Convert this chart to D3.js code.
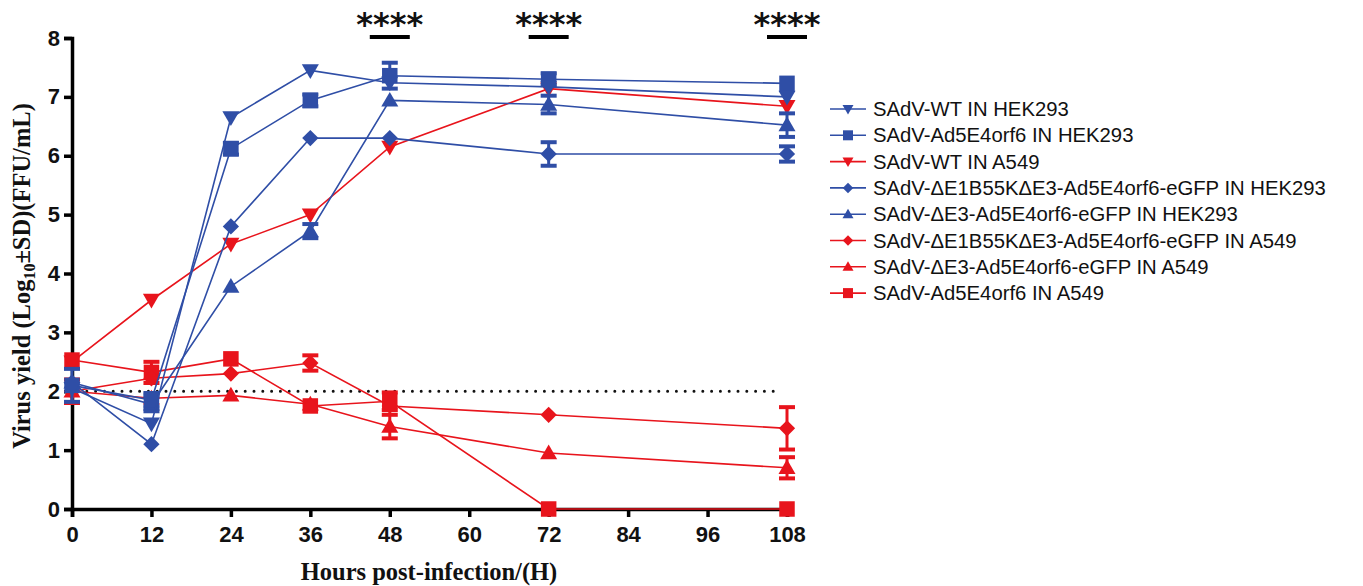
<html>
	<head>
		<script src="https://cdnjs.cloudflare.com/ajax/libs/d3/7.8.5/d3.min.js"></script>
		<style>
            body { margin: 0; background: #fff; }
            svg { width: 1363px; height: 586px; }
            .tick text { font-family: "Liberation Sans", Arial, sans-serif; font-weight: bold; font-size: 22px; fill: #111; }
            .axisTitle { font-family: "Liberation Serif", "Times New Roman", serif; font-weight: bold; font-size: 24.5px; fill: #111; }
            .legendText { font-family: "Liberation Sans", Arial, sans-serif; font-size: 20.3px; fill: #111; }
            .stars { font-family: "DejaVu Sans", sans-serif; font-weight: bold; font-size: 32px; fill: #111; }
		</style>
	</head>
	<body>
		<script type='text/javascript'>
            // hours post infection
            var hours = [0, 12, 24, 36, 48, 72, 108];
            var xTicks = [0, 12, 24, 36, 48, 60, 72, 84, 96, 108];
            var yTicks = [0, 1, 2, 3, 4, 5, 6, 7, 8];

            var seriesNames = [
                "SAdV-WT IN HEK293",
                "SAdV-Ad5E4orf6 IN HEK293",
                "SAdV-WT IN A549",
                "SAdV-ΔE1B55KΔE3-Ad5E4orf6-eGFP IN HEK293",
                "SAdV-ΔE3-Ad5E4orf6-eGFP IN HEK293",
                "SAdV-ΔE1B55KΔE3-Ad5E4orf6-eGFP IN A549",
                "SAdV-ΔE3-Ad5E4orf6-eGFP IN A549",
                "SAdV-Ad5E4orf6 IN A549"
            ];
            var seriesColors = ["blue", "blue", "red", "blue", "blue", "red", "red", "red"];
            var seriesShapes = ["down", "square", "down", "diamond", "up", "diamond", "up", "square"];

            // log10 yield (mean) and SD per series
            var wtHek = [2.05, 1.45, 6.65, 7.45, 7.24, 7.17, 7.0];
            var wtHekSd = [0.05, 0.05, 0.05, 0.04, 0.05, 0.05, 0.05];
            var orf6Hek = [2.1, 1.85, 6.12, 6.94, 7.36, 7.3, 7.23];
            var orf6HekSd = [0.28, 0.12, 0.1, 0.1, 0.22, 0.1, 0.05];
            var wtA549 = [2.5, 3.55, 4.5, 5.0, 6.15, 7.14, 6.84];
            var wtA549Sd = [0.05, 0.04, 0.05, 0.06, 0.05, 0.05, 0.05];
            var e1bHek = [2.15, 1.1, 4.8, 6.3, 6.3, 6.03, 6.03];
            var e1bHekSd = [0.05, 0.04, 0.04, 0.04, 0.04, 0.2, 0.13];
            var e3Hek = [2.15, 1.78, 3.78, 4.72, 6.94, 6.87, 6.52];
            var e3HekSd = [0.05, 0.12, 0.04, 0.12, 0.05, 0.15, 0.2];
            var e1bA549 = [2.0, 2.22, 2.3, 2.48, 1.75, 1.6, 1.37];
            var e1bA549Sd = [0.05, 0.04, 0.04, 0.13, 0.04, 0.04, 0.36];
            var e3A549 = [2.0, 1.88, 1.93, 1.78, 1.4, 0.95, 0.7];
            var e3A549Sd = [0.2, 0.05, 0.04, 0.04, 0.2, 0.04, 0.18];
            var orf6A549 = [2.53, 2.32, 2.55, 1.75, 1.83, 0, 0];
            var orf6A549Sd = [0.05, 0.18, 0.05, 0.05, 0.15, 0, 0];

            var seriesValues = [wtHek, orf6Hek, wtA549, e1bHek, e3Hek, e1bA549, e3A549, orf6A549];
            var seriesSd = [wtHekSd, orf6HekSd, wtA549Sd, e1bHekSd, e3HekSd, e1bA549Sd, e3A549Sd, orf6A549Sd];

            var limitOfDetection = 2;
            var significanceHours = [48, 72, 108];

            var palette = { blue: "#2f4ea6", red: "#e8141c" };

            var svg = d3.select("body").append("svg");

            var x = d3.scaleLinear().domain([0, 108]).range([72, 787]);
            var y = d3.scaleLinear().domain([0, 8]).range([509, 38]);

            function shapePath(shape, s) {
                var h = s / 2;
                if (shape === "square") return "M" + (-h) + "," + (-h) + "H" + h + "V" + h + "H" + (-h) + "Z";
                if (shape === "diamond") return "M0," + (-h * 1.05) + "L" + (h * 1.05) + ",0L0," + (h * 1.05) + "L" + (-h * 1.05) + ",0Z";
                if (shape === "up") return "M0," + (-h * 1.1) + "L" + (h * 1.1) + "," + (h * 0.8) + "L" + (-h * 1.1) + "," + (h * 0.8) + "Z";
                return "M0," + (h * 1.1) + "L" + (h * 1.1) + "," + (-h * 0.8) + "L" + (-h * 1.1) + "," + (-h * 0.8) + "Z";
            }

            // axes
            var yAxis = svg.append("g")
                .attr("transform", "translate(72,0)")
                .call(d3.axisLeft(y).tickValues(yTicks).tickSize(8).tickPadding(4).tickFormat(d3.format("d")));
            var xAxis = svg.append("g")
                .attr("transform", "translate(0,509)")
                .call(d3.axisBottom(x).tickValues(xTicks).tickSize(8).tickPadding(9).tickFormat(d3.format("d")));
            [yAxis, xAxis].forEach(function (a) {
                a.select(".domain").attr("stroke", "#000").attr("stroke-width", 3.5);
                a.selectAll(".tick line").attr("stroke", "#000").attr("stroke-width", 3.5);
            });
            xAxis.selectAll(".tick text").attr("font-size", 21);

            // limit of detection
            svg.append("line")
                .attr("x1", x(0) + 6).attr("x2", x(107))
                .attr("y1", y(limitOfDetection)).attr("y2", y(limitOfDetection))
                .attr("stroke", "#111")
                .attr("stroke-width", 3)
                .attr("stroke-linecap", "round")
                .attr("stroke-dasharray", "0 8.8");

            // series, red ones first so blue sits on top
            var order = [7, 6, 5, 2, 4, 3, 1, 0];
            var line = d3.line().x(function (d) { return x(d[0]); }).y(function (d) { return y(d[1]); });

            order.forEach(function (i) {
                var col = palette[seriesColors[i]];
                var pts = hours.map(function (h, k) { return [h, seriesValues[i][k], seriesSd[i][k]]; });
                var g = svg.append("g").attr("class", "series");

                g.append("path")
                    .attr("d", line(pts))
                    .attr("fill", "none")
                    .attr("stroke", col)
                    .attr("stroke-width", 1.6);

                pts.forEach(function (p) {
                    if (p[2] < 0.08) return;
                    var top = y(p[1] + p[2]), bot = y(p[1] - p[2]), cx = x(p[0]);
                    g.append("line").attr("x1", cx).attr("x2", cx).attr("y1", top).attr("y2", bot)
                        .attr("stroke", col).attr("stroke-width", 3);
                    [top, bot].forEach(function (yy) {
                        g.append("line").attr("x1", cx - 8).attr("x2", cx + 8).attr("y1", yy).attr("y2", yy)
                            .attr("stroke", col).attr("stroke-width", 4);
                    });
                });

                g.selectAll("path.marker")
                    .data(pts)
                    .enter()
                    .append("path")
                    .attr("class", "marker")
                    .attr("d", shapePath(seriesShapes[i], 15.5))
                    .attr("transform", function (d) { return "translate(" + x(d[0]) + "," + y(d[1]) + ")"; })
                    .attr("fill", col);
            });

            // significance marks
            significanceHours.forEach(function (h) {
                svg.append("line")
                    .attr("x1", x(h) - 20).attr("x2", x(h) + 20)
                    .attr("y1", 37).attr("y2", 37)
                    .attr("stroke", "#000").attr("stroke-width", 4);
                svg.append("text")
                    .attr("class", "stars")
                    .attr("x", x(h)).attr("y", 35)
                    .attr("text-anchor", "middle")
                    .text("****");
            });

            // axis titles
            svg.append("text")
                .attr("class", "axisTitle")
                .attr("x", 429).attr("y", 580)
                .attr("text-anchor", "middle")
                .text("Hours post-infection/(H)");

            var yt = svg.append("text")
                .attr("class", "axisTitle")
                .attr("transform", "translate(30,276) rotate(-90)")
                .attr("text-anchor", "middle");
            yt.append("tspan").text("Virus yield (Log");
            yt.append("tspan").attr("font-size", 16).attr("dy", 5).text("10");
            yt.append("tspan").attr("dy", -5).text("±SD)(FFU/mL)");

            // legend
            var legend = svg.append("g").attr("transform", "translate(830,109)");
            seriesNames.forEach(function (name, i) {
                var col = palette[seriesColors[i]];
                var row = legend.append("g").attr("transform", "translate(0," + (i * 26.3) + ")");
                row.append("line").attr("x1", 0).attr("x2", 36).attr("stroke", col).attr("stroke-width", 1.6);
                row.append("path").attr("d", shapePath(seriesShapes[i], 10)).attr("transform", "translate(18,0)").attr("fill", col);
                row.append("text").attr("class", "legendText").attr("x", 43).attr("dy", "0.35em").text(name);
            });
		</script>
	</body>
</html>
